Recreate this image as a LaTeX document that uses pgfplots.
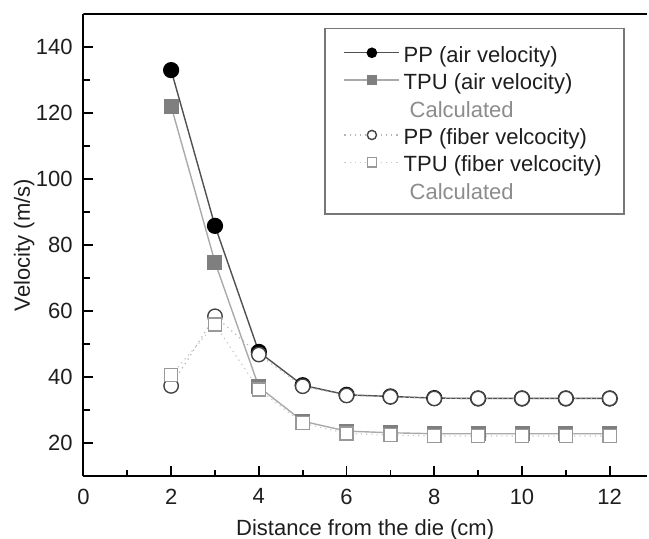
\documentclass[border=0pt]{standalone}
\usepackage{fontspec}
\setmainfont{Liberation Sans}
\usepackage{pgfplots}
\pgfplotsset{compat=1.18}
\definecolor{txt}{HTML}{1E1E1E}
\definecolor{calc}{HTML}{8C8C8C}
\definecolor{ppair}{HTML}{505050}
\definecolor{tpuair}{HTML}{AAAAAA}
\definecolor{tpufill}{HTML}{7F7F7F}
\definecolor{ppfib}{HTML}{444444}
\definecolor{tpufib}{HTML}{999999}
\definecolor{ppfibline}{HTML}{B5B5B5}
\definecolor{tpufibline}{HTML}{C8C8C8}
\definecolor{legframe}{HTML}{777777}
\begin{document}
\fontsize{11}{13}\selectfont
\begin{tikzpicture}
\begin{axis}[
  name=ax,
  scale only axis,
  width=281.8pt, height=231pt,
  xmin=0, xmax=12.85, ymin=10, ymax=150,
  axis lines*=left,
  axis line style={line width=0.9pt, black},
  xtick={0,2,...,12}, ytick={20,40,...,140},
  minor xtick={1,3,...,11}, minor ytick={30,50,...,130},
  tick align=inside,
  major tick length=5pt, minor tick length=3.2pt,
  every tick/.style={black, line width=0.8pt},
  /pgf/number format/assume math mode=true,
  tick label style={font=\fontsize{11}{13}\selectfont, text=txt},
  yticklabel style={xshift=-1.5pt},
  xticklabel style={yshift=-2.5pt},
  every axis x label/.style={at={(axis description cs:0.5,-0.117)}, anchor=center},
  every axis y label/.style={at={(axis description cs:-0.105,0.5)}, rotate=90, anchor=center},
  label style={font=\fontsize{11}{13}\selectfont, text=txt},
  xlabel={Distance from the die (cm)},
  ylabel={Velocity (m/s)},
  legend cell align=left,
  legend style={at={(0.4276,0.9697)}, anchor=north west,
    draw=legframe, line width=0.7pt, fill=white,
    font=\fontsize{11}{13}\selectfont,
    inner xsep=9.3pt, inner ysep=5.2pt,
    nodes={text height=10pt, text depth=0.5pt, inner ysep=1.6pt, inner xsep=1.8pt, text=txt}},
  legend image code/.code={\draw[mark repeat=2,mark phase=2,#1] plot coordinates {(0pt,0pt) (13.75pt,0pt) (27.5pt,0pt)};},
  legend image post style={mark size=2.3pt},
]
\addplot[color=ppair, line width=0.7pt, mark=*, mark size=3.7pt,
  mark options={draw=black, fill=black, solid}]
  coordinates {(2,133) (3,85.8) (4,47.6) (5,37.5) (6,34.6) (7,34.1) (8,33.6) (9,33.5) (10,33.5) (11,33.5) (12,33.5)};
\addlegendentry{PP (air velocity)}
\addplot[color=tpuair, line width=0.7pt, mark=square*, mark size=3.4pt,
  mark options={draw=tpufill, fill=tpufill, solid}]
  coordinates {(2,122.1) (3,74.8) (4,37.0) (5,26.6) (6,23.6) (7,23.1) (8,22.8) (9,22.8) (10,22.8) (11,22.8) (12,22.8)};
\addlegendentry{TPU (air velocity)}
\addlegendimage{empty legend}
\addlegendentry{\hspace{3pt}\textcolor{calc}{Calculated}}
\addplot[color=ppfibline, line width=0.6pt, dotted, mark=*, mark size=3.6pt,
  mark options={draw=ppfib, fill=white, solid, line width=0.7pt}]
  coordinates {(2,37.3) (3,58.4) (4,46.8) (5,37.2) (6,34.4) (7,34.0) (8,33.5) (9,33.5) (10,33.5) (11,33.5) (12,33.5)};
\addlegendentry{PP (fiber velcocity)}
\addplot[color=tpufibline, line width=0.6pt, dotted, mark=square*, mark size=3.3pt,
  mark options={draw=tpufib, fill=white, solid, line width=0.7pt}]
  coordinates {(2,40.6) (3,55.9) (4,36.2) (5,26.0) (6,22.9) (7,22.4) (8,22.1) (9,22.1) (10,22.1) (11,22.1) (12,22.1)};
\addlegendentry{TPU (fiber velcocity)}
\addlegendimage{empty legend}
\addlegendentry{\hspace{3pt}\textcolor{calc}{Calculated}}
\draw[line width=0.9pt, black] (rel axis cs:0,1) -- (rel axis cs:1,1);
\end{axis}
\pgfresetboundingbox
\path ([xshift=-41.7pt,yshift=-31.5pt]ax.south west) rectangle ([xshift=1pt,yshift=7pt]ax.north east);
\end{tikzpicture}
\end{document}
